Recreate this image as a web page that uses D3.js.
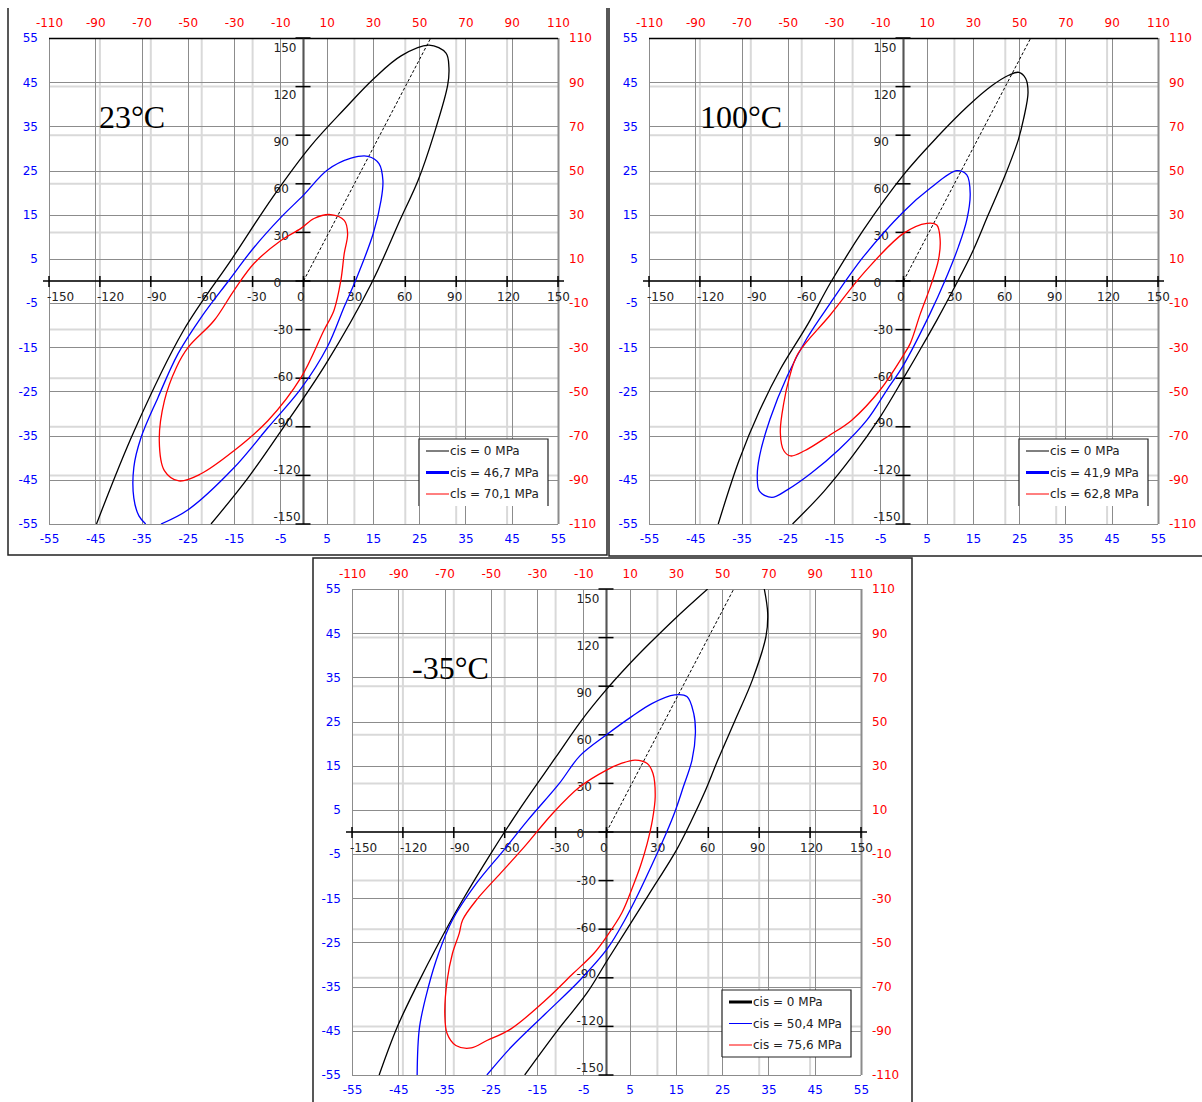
<!DOCTYPE html>
<html>
<head>
<meta charset="utf-8">
<script src="https://cdn.jsdelivr.net/npm/d3@7"></script>
<style>
  body { margin: 0; background: #fff; }
  svg { display: block; }
</style>
</head>
<body>
<svg id="chart" width="1202" height="1102"></svg>
<script>
// axis ticks
const blackTicks = [-150, -120, -90, -60, -30, 0, 30, 60, 90, 120, 150];
const blueTicks = [-55, -45, -35, -25, -15, -5, 5, 15, 25, 35, 45, 55];
const redTicks = [-110, -90, -70, -50, -30, -10, 10, 30, 50, 70, 90, 110];

const temperatures = ['23°C', '100°C', '-35°C'];
const legend23 = ['cis = 0 MPa', 'cis = 46,7 MPa', 'cls = 70,1 MPa'];
const legend100 = ['cis = 0 MPa', 'cis = 41,9 MPa', 'cls = 62,8 MPa'];
const legendM35 = ['cis = 0 MPa', 'cis = 50,4 MPa', 'cis = 75,6 MPa'];

// hoop = 2 x axial line
const ratioLine = [[0, 0], [75, 150]];

// envelopes (black axis units)
const env23Black = [[-122, -150], [-100, -93], [-71, -31], [-42, 14], [-18, 52], [4, 83], [24, 106], [41.5, 125],
  [57.5, 139], [74, 145.6], [84, 140.7], [85.7, 132], [85, 121], [77, 91], [67.5, 62], [57.5, 39], [40, -1.5],
  [13.3, -51], [-12, -90.6], [-32.7, -121.5], [-54.5, -150]];
const env23Blue = [[-93, -150], [-97, -145], [-100, -134], [-100, -115], [-95.8, -96.8], [-85.8, -72], [-74, -45],
  [-60.4, -22.6], [-44, 0.3], [-29.2, 20.7], [-13.3, 39.3], [0, 53], [14.1, 68.5], [28, 75.8], [38, 77], [44.5, 72.5],
  [46.8, 62], [45.7, 49.8], [41, 29], [30.8, 0.6], [24, -15.9], [14.1, -40.6], [-1.5, -66.5], [-21, -90.6],
  [-41, -115.3], [-68, -141.2], [-84, -150]];
const env23Red = [[16, 41], [6.2, 38.6], [-1.5, 32.5], [-13.3, 25], [-29.2, 10.8], [-41, -5.9], [-52.7, -24.4], [-68, -41],
  [-75, -53.5], [-82, -74], [-85, -98.6], [-82, -117], [-73.4, -123.4], [-60.4, -119], [-41, -104.8], [-21, -86.3],
  [-1.5, -59.7], [12, -30.6], [18, -18], [22, 0.3], [24, 16.9], [26, 29.3], [24, 37.4]];

const env100Black = [[-109.2, -150], [-97, -111], [-84.8, -80], [-72.6, -54.5], [-56.3, -26.5], [-43.2, -1.4],
  [-23.6, 31.5], [0, 65.5], [20, 89], [38, 108], [52, 120.5], [62, 127], [68, 128.8], [72, 125], [73.4, 116.3],
  [70.7, 99.7], [67.7, 87.3], [59.6, 64.5], [50, 41], [40, 16.5], [30, -4], [20, -23.5], [10, -42],
  [0, -60], [-13.8, -84], [-30, -108], [-47, -130], [-65.4, -150]];
const env100Blue = [[31.4, 68.1], [15.7, 57.2], [0, 42.8], [-23.6, 15], [-43.2, -13.8], [-57, -35.5], [-68.5, -58.6],
  [-78.7, -85.3], [-84.8, -108], [-86.2, -120.5], [-84.8, -129.9], [-77.6, -133.6], [-68.5, -128.9], [-54.3, -118.5],
  [-38, -104], [-21.6, -85.9], [-9.8, -67.3], [0, -51.9], [15.7, -20], [24.6, 0.6], [32.4, 21.2], [37.3, 37.7],
  [39.3, 54.1], [37.3, 65.5]];
const env100Red = [[13.8, 35.6], [0, 29.4], [-23.6, 4.7], [-43.2, -21], [-62.4, -45.2], [-67.5, -60.6], [-70.5, -75],
  [-72.6, -93.5], [-70.5, -104.8], [-66.5, -108], [-58.3, -104.8], [-44, -95.5], [-30.5, -85.9], [-13.8, -67.3],
  [0, -45.7], [4, -38.5], [10, -20], [16, -3], [20.6, 13], [21.6, 25.3], [19.6, 34.6]];

const envM35BlackUpper = [[-134, -150], [-123.4, -120.5], [-111.2, -93.6], [-99, -68.8], [-84.8, -42], [-68, -13],
  [-50, 16], [-30, 46], [-15, 68.5], [0, 88], [12, 102], [25, 116], [41.3, 132.6], [59.6, 150]];
const envM35BlackLower = [[93, 150], [95, 135], [94, 120.7], [86, 93.9], [75.8, 69], [65.6, 44.4], [57.5, 23.7],
  [49.4, 5.6], [41.3, -11], [25, -38.5], [0.6, -79], [-11.6, -99.5], [-28.5, -122], [-48.2, -150]];
const envM35Blue = [[-111.6, -150], [-110.2, -120.5], [-105, -95.7], [-99, -75], [-90.8, -54.3], [-76.6, -31.6],
  [-60.4, -11], [-46.1, 7.6], [-27.8, 30], [-15.7, 47], [0, 60], [14.8, 71.2], [27, 79.4], [40.2, 84.6],
  [47.4, 83.6], [51.4, 73.2], [52.4, 60.9], [50.4, 44.4], [45.3, 27.9], [40.5, 13], [35.5, 0], [29.1, -15],
  [18.9, -37.8], [10.8, -54.3], [0.6, -71.9], [-15.7, -91.5], [-36, -112.2], [-56.3, -132.9], [-70.5, -150]];
const envM35Red = [[16.9, 44.4], [8.7, 42.3], [0, 38.2], [-15.7, 27.9], [-31.9, 11.3], [-48.2, -8.9], [-62.4, -25.4],
  [-76.6, -41.9], [-84.8, -54.3], [-86.8, -62.6], [-90.8, -75], [-93.9, -91.5], [-95.3, -112.2], [-93.9, -124.6],
  [-88.8, -131.8], [-79.7, -133.3], [-70.5, -128.7], [-56.3, -121.5], [-36, -103.9], [-19.7, -87.4], [-7.5, -75],
  [0, -64.7], [9, -50], [15, -35], [20, -21], [24, -7], [27, 7], [28.7, 21.7], [27.4, 36.1], [24, 42.3]];

const W = 509, H = 486;
const FONT = 'DejaVu Sans, Verdana, sans-serif';

const panels = [
  { id: 'p23', left: 49, top: 38, title: temperatures[0], titleDx: 50, legend: legend23, legendWidths: [1, 3, 1], topLine: true, legendBottom: false,
    curves: [{ pts: env23Black, color: '#000' }, { pts: env23Blue, color: '#0000ff' }, { pts: env23Red, color: '#ff0000', closed: true }] },
  { id: 'p100', left: 649, top: 38, title: temperatures[1], titleDx: 51, legend: legend100, legendWidths: [1, 3, 1], topLine: true, legendBottom: false,
    curves: [{ pts: env100Black, color: '#000' }, { pts: env100Blue, color: '#0000ff', closed: true }, { pts: env100Red, color: '#ff0000', closed: true }] },
  { id: 'pm35', left: 352, top: 589, title: temperatures[2], titleDx: 60, legend: legendM35, legendWidths: [3, 1, 1], topLine: false, legendBottom: true,
    curves: [{ pts: envM35BlackUpper, color: '#000' }, { pts: envM35BlackLower, color: '#000' }, { pts: envM35Blue, color: '#0000ff' }, { pts: envM35Red, color: '#ff0000', closed: true }] }
];

const legendColors = ['#000', '#0000ff', '#ff0000'];

const svg = d3.select('#chart');

// outer frames of the three pasted panels
const frames = [
  [[8, 8], [8, 555], [607, 555], [607, 8]],
  [[609, 8], [609, 556], [1202, 556]],
  [[313, 1102], [313, 558], [912, 558], [912, 1102]]
];
frames.forEach(f => {
  svg.append('path').attr('d', d3.line()(f)).attr('fill', 'none').attr('stroke', '#222').attr('stroke-width', 1.5);
});

function styleAxis(g, color) {
  g.select('.domain').remove();
  g.selectAll('text').attr('font-family', FONT).attr('font-size', 12).attr('fill', color);
}

function drawPanel(p) {
  const g = svg.append('g').attr('transform', `translate(${p.left},${p.top})`);

  const x = d3.scaleLinear().domain([-150, 150]).range([0, W]);
  const y = d3.scaleLinear().domain([-150, 150]).range([H, 0]);
  const xBlue = d3.scaleLinear().domain([-55, 55]).range([0, W]);
  const yBlue = d3.scaleLinear().domain([-55, 55]).range([H, 0]);
  const xRed = d3.scaleLinear().domain([-110, 110]).range([0, W]);
  const yRed = d3.scaleLinear().domain([-110, 110]).range([H, 0]);
  // black tick labels sit on a slightly squeezed spacing in the original
  const xLab = d3.scaleLinear().domain([-150, 150]).range([-2, W - 11]);
  const yLab = d3.scaleLinear().domain([-150, 150]).range([H - 7, 10]);
  const fmt = d => String(d);

  // light grid on the black ticks
  const inner = blackTicks.filter(v => Math.abs(v) < 150);
  g.selectAll('.lgx').data(inner).enter().append('line')
    .attr('x1', d => x(d)).attr('x2', d => x(d)).attr('y1', 0).attr('y2', H)
    .attr('stroke', '#d9d9d9').attr('stroke-width', 2);
  g.selectAll('.lgy').data(inner).enter().append('line')
    .attr('y1', d => y(d)).attr('y2', d => y(d)).attr('x1', 0).attr('x2', W)
    .attr('stroke', '#d9d9d9').attr('stroke-width', 2);

  // dark grid on the blue / red ticks
  g.selectAll('.dgx').data(blueTicks).enter().append('line')
    .attr('x1', d => Math.round(xBlue(d)) + 0.5).attr('x2', d => Math.round(xBlue(d)) + 0.5).attr('y1', 0).attr('y2', H)
    .attr('stroke', '#8c8c8c').attr('stroke-width', d => (d === 55 ? 2 : 1));
  g.selectAll('.dgy').data(blueTicks.filter(v => v < 55 || !p.topLine)).enter().append('line')
    .attr('y1', d => Math.round(yBlue(d)) + 0.5).attr('y2', d => Math.round(yBlue(d)) + 0.5).attr('x1', 0).attr('x2', W)
    .attr('stroke', '#8c8c8c').attr('stroke-width', 1);
  if (p.topLine) {
    g.append('line').attr('x1', 0).attr('x2', W).attr('y1', 0.5).attr('y2', 0.5).attr('stroke', '#000').attr('stroke-width', 1.5);
  }

  // outer axes: red top/right, blue left/bottom
  g.append('g').call(d3.axisTop(xRed).tickValues(redTicks).tickFormat(fmt).tickSize(0).tickPadding(11))
    .call(a => styleAxis(a, '#ff0000'));
  g.append('g').attr('transform', `translate(${W},0)`)
    .call(d3.axisRight(yRed).tickValues(redTicks).tickFormat(fmt).tickSize(0).tickPadding(11))
    .call(a => styleAxis(a, '#ff0000'));
  g.append('g').call(d3.axisLeft(yBlue).tickValues(blueTicks).tickFormat(fmt).tickSize(0).tickPadding(11))
    .call(a => styleAxis(a, '#0000ff'));
  g.append('g').attr('transform', `translate(0,${H})`)
    .call(d3.axisBottom(xBlue).tickValues(blueTicks).tickFormat(fmt).tickSize(0).tickPadding(10))
    .call(a => styleAxis(a, '#0000ff'));

  // black central axes
  const x0 = x(0), y0 = y(0);
  g.append('line').attr('x1', x0).attr('x2', x0).attr('y1', 0).attr('y2', H).attr('stroke', '#555').attr('stroke-width', 2);
  g.append('line').attr('x1', -6).attr('x2', W + 6).attr('y1', y0).attr('y2', y0).attr('stroke', '#000').attr('stroke-width', 1.5);
  g.selectAll('.tx').data(blackTicks).enter().append('line')
    .attr('x1', d => x(d)).attr('x2', d => x(d)).attr('y1', y0 - 5).attr('y2', y0 + 6)
    .attr('stroke', '#000').attr('stroke-width', 1.5);
  g.selectAll('.ty').data(blackTicks).enter().append('line')
    .attr('y1', d => y(d)).attr('y2', d => y(d)).attr('x1', x0 - 8).attr('x2', x0 + 7)
    .attr('stroke', '#000').attr('stroke-width', 1.5);
  g.selectAll('.lx').data(blackTicks).enter().append('text')
    .attr('x', d => xLab(d)).attr('y', y0 + 16).attr('dy', '0.35em')
    .attr('font-family', FONT).attr('font-size', 12).attr('fill', '#222')
    .text(fmt);
  g.selectAll('.ly').data(blackTicks).enter().append('text')
    .attr('x', x0 - 30).attr('y', d => yLab(d)).attr('dy', '0.35em')
    .attr('font-family', FONT).attr('font-size', 12).attr('fill', '#222')
    .text(fmt);

  // temperature label
  g.append('text').attr('x', p.titleDx).attr('y', 90)
    .attr('font-family', 'Liberation Serif, Times New Roman, serif').attr('font-size', 32).attr('fill', '#000')
    .text(p.title);

  // curves, clipped to the plot
  g.append('clipPath').attr('id', 'clip-' + p.id).append('rect').attr('width', W).attr('height', H);
  const curves = g.append('g').attr('clip-path', `url(#clip-${p.id})`);
  const path = closed => d3.line().x(d => x(d[0])).y(d => y(d[1]))
    .curve(closed ? d3.curveCatmullRomClosed : d3.curveCatmullRom);

  curves.append('path').attr('d', path(false)(ratioLine))
    .attr('fill', 'none').attr('stroke', '#000').attr('stroke-width', 1).attr('stroke-dasharray', '3,2');
  p.curves.forEach(c => {
    curves.append('path').attr('d', path(c.closed)(c.pts))
      .attr('fill', 'none').attr('stroke', c.color).attr('stroke-width', 1.3);
  });

  // legend
  const lg = g.append('g').attr('transform', 'translate(370,401)');
  lg.append('rect').attr('width', 129).attr('height', 67).attr('fill', '#fff');
  const border = p.legendBottom ? [[0, 67], [0, 0], [129, 0], [129, 67], [0, 67]] : [[0, 67], [0, 0], [129, 0], [129, 67]];
  lg.append('path').attr('d', d3.line()(border)).attr('fill', 'none').attr('stroke', '#222').attr('stroke-width', 1.2);
  p.legend.forEach((label, i) => {
    const ly = 12 + i * 21.5;
    lg.append('line').attr('x1', 7).attr('x2', 30).attr('y1', ly).attr('y2', ly)
      .attr('stroke', legendColors[i]).attr('stroke-width', p.legendWidths[i]);
    lg.append('text').attr('x', 31).attr('y', ly).attr('dy', '0.35em')
      .attr('font-family', FONT).attr('font-size', 12).attr('fill', '#222').text(label);
  });
}

panels.forEach(drawPanel);
</script>
</body>
</html>
